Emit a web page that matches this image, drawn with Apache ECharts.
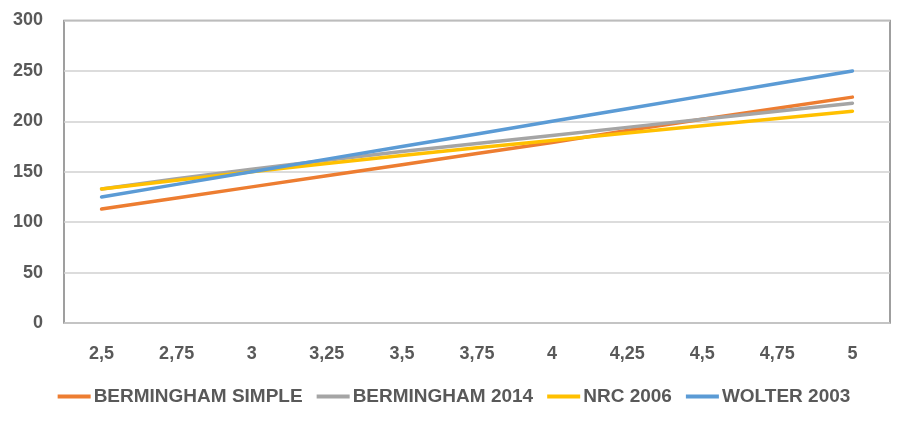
<!DOCTYPE html>
<html>
<head>
<meta charset="utf-8">
<script src="https://cdn.jsdelivr.net/npm/echarts@6/dist/echarts.min.js"></script>
<style>html,body{margin:0;padding:0;background:#fff}#c{width:908px;height:422px}</style>
</head>
<body>
<div id="c"></div>
<script>
const categories = ['2,5','2,75','3','3,25','3,5','3,75','4','4,25','4,5','4,75','5'];
const berminghamSimple = [113,124,135,146,157,168,179,191,202,213,224];
const bermingham2014 = [133,143,152.5,161.5,170,178,186,194,202,210,218];
const nrc2006 = [133,141.6,150,158.2,166.2,173.8,181,188.4,195.7,202.9,210];
const wolter2003 = [125,137.5,150,162.5,175,187.5,200,212.5,225,237.5,250];
const seriesNames = ['BERMINGHAM SIMPLE','BERMINGHAM 2014','NRC 2006','WOLTER 2003'];
const colors = ['#ED7D31','#A5A5A5','#FFC000','#5B9BD5'];
const values = [berminghamSimple, bermingham2014, nrc2006, wolter2003];

const chart = echarts.init(document.getElementById('c'), null, {renderer:'canvas'});
const font = '"Liberation Sans", Arial, sans-serif';
chart.setOption({
  animation:false,
  backgroundColor:'#fff',
  color: colors,
  grid:{left:64,right:18,top:20.5,bottom:99,show:true,borderColor:'#808080',borderWidth:1.5,backgroundColor:'transparent'},
  legend:{
    data: seriesNames,
    left:'center', top:382,
    icon:'rect', itemWidth:33, itemHeight:4, itemGap:14,
    textStyle:{fontFamily:font,fontWeight:'bold',fontSize:19,color:'#595959',padding:[0,0,0,-2]}
  },
  xAxis:{
    type:'category', data:categories, boundaryGap:true,
    axisLine:{show:false}, axisTick:{show:false},
    axisLabel:{margin:22,fontFamily:font,fontWeight:'bold',fontSize:18,color:'#595959'}
  },
  yAxis:{
    type:'value', min:0, max:300, interval:50,
    axisLine:{show:false}, axisTick:{show:false},
    splitLine:{lineStyle:{color:'#d0d0d0',width:1.5}},
    axisLabel:{margin:21,fontFamily:font,fontWeight:'bold',fontSize:18,color:'#595959'}
  },
  series: seriesNames.map((n,i)=>({
    name:n, type:'line', data:values[i], symbol:'none',
    lineStyle:{width:3.5,color:colors[i],cap:'round',join:'round'},
    itemStyle:{color:colors[i]}
  }))
});
</script>
</body>
</html>
